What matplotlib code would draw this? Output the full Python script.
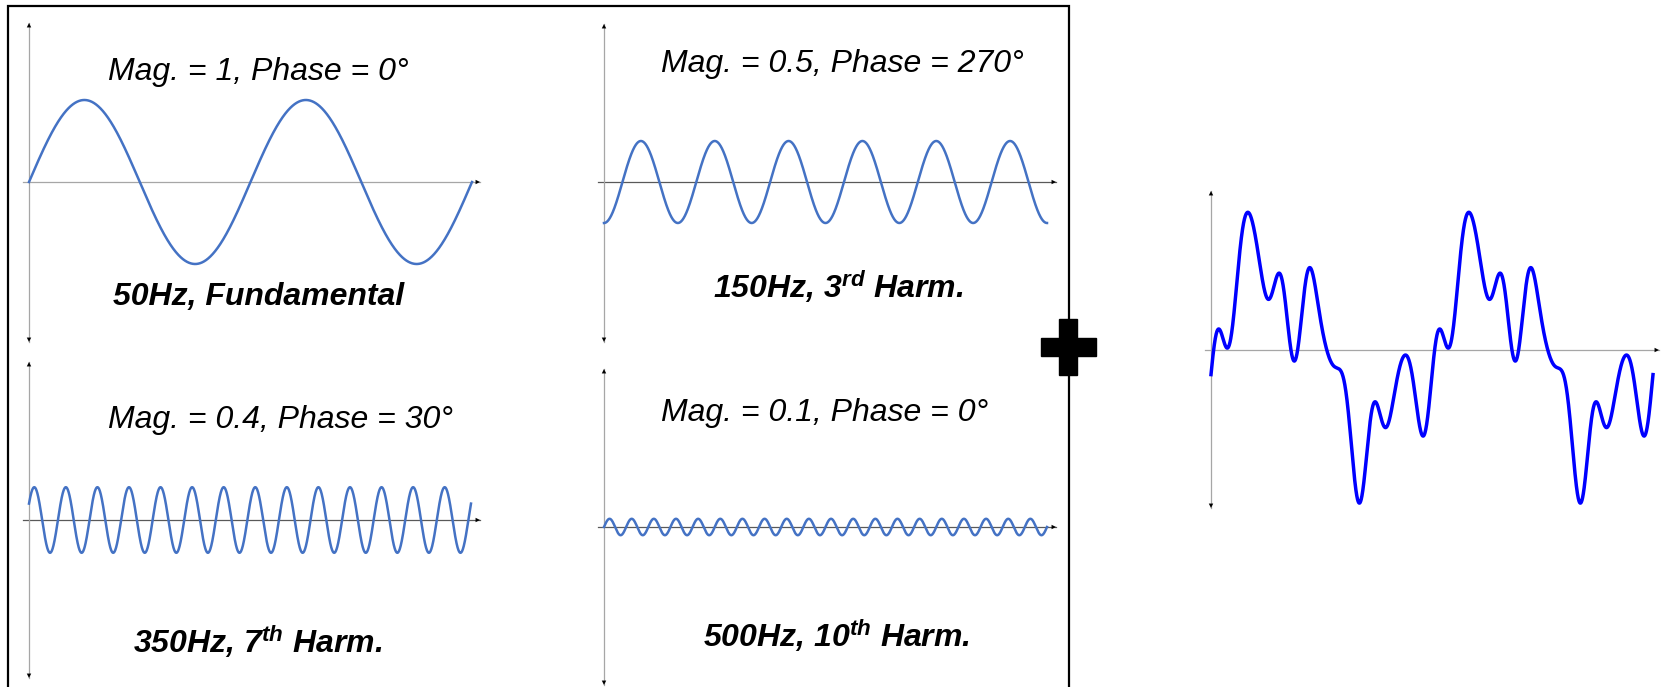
import numpy as np
import matplotlib
matplotlib.use("Agg")
import matplotlib.pyplot as plt
from matplotlib.patches import Rectangle

plt.rcParams["font.family"] = ["Liberation Sans", "DejaVu Sans"]
plt.rcParams["mathtext.fontset"] = "custom"
plt.rcParams["mathtext.it"] = "Liberation Sans:bold:italic"
plt.rcParams["mathtext.rm"] = "Liberation Sans:bold:italic"

# harmonic content of the signal
freqs = [50, 150, 350, 500]
mags = [1, 0.5, 0.4, 0.1]
phases = [0, 270, 30, 0]
names = ["Fundamental", "3$^{rd}$ Harm.", "7$^{th}$ Harm.", "10$^{th}$ Harm."]
t_end = 0.04  # two cycles of the fundamental

W, H = 1661, 687
fig = plt.figure(figsize=(W / 100, H / 100), dpi=100)

# overlay in pixel units for the frame and the plus sign
deco = fig.add_axes([0, 0, 1, 1])
deco.set_xlim(0, W)
deco.set_ylim(H, 0)
deco.axis("off")


def wave_axes(ox, oy, sx, sy):
    # axes spanning the figure, with (t=0, v=0) at pixel (ox, oy)
    ax = fig.add_axes([0, 0, 1, 1])
    ax.set_xlim(-ox / sx, (W - ox) / sx)
    ax.set_ylim((oy - H) / sy, oy / sy)
    ax.patch.set_alpha(0)
    ax.axis("off")
    return ax


def draw_axes(ax, ox, oy, sx, sy, hx, vy, hcol, vcol):
    x0, x1 = (hx[0] - ox) / sx, (hx[1] - ox) / sx
    y0, y1 = (oy - vy[1]) / sy, (oy - vy[0]) / sy
    xv = 0
    ax.plot([x0, x1], [0, 0], color=hcol, lw=0.9, zorder=1)
    ax.plot([xv, xv], [y0, y1], color=vcol, lw=0.9, zorder=1)
    head = dict(arrowstyle="-|>", color="black", lw=0, mutation_scale=8, shrinkA=0, shrinkB=0)
    ax.annotate("", xy=(x1, 0), xytext=(x1 - 1 / sx, 0), arrowprops=head)
    ax.annotate("", xy=(xv, y1), xytext=(xv, y1 - 1 / sy), arrowprops=head)
    ax.annotate("", xy=(xv, y0), xytext=(xv, y0 + 1 / sy), arrowprops=head)


def fig_text(x, y, s, **kw):
    fig.text(x / W, 1 - y / H, s, ha="center", va="baseline", fontsize=23, **kw)


# panel layout in pixels: origin, x scale, h-axis span, v-axis span, text baselines
panels = [
    dict(o=(29, 182), sx=443 / t_end, hx=(23, 480), vy=(23, 342),
         top=(258, 80), bot=(259, 305), hcol="#a6a6a6"),
    dict(o=(604, 182), sx=443 / t_end, hx=(598, 1056), vy=(24, 342),
         top=(842, 72), bot=(838, 298), hcol="#595959"),
    dict(o=(29, 520), sx=442 / t_end, hx=(23, 480), vy=(362, 678),
         top=(280, 428), bot=(258, 653), hcol="#595959"),
    dict(o=(604, 527), sx=443 / t_end, hx=(598, 1056), vy=(369, 685),
         top=(825, 421), bot=(837, 647), hcol="#595959"),
]
sy = 82

t = np.linspace(0, t_end, 3000)
total = np.zeros_like(t)
for f, m, ph, name, p in zip(freqs, mags, phases, names, panels):
    y = m * np.sin(2 * np.pi * f * t + np.deg2rad(ph))
    total += y
    ox, oy = p["o"]
    ax = wave_axes(ox, oy, p["sx"], sy)
    draw_axes(ax, ox, oy, p["sx"], sy, p["hx"], p["vy"], p["hcol"], "#a6a6a6")
    ax.plot(t, y, color="#4472c4", lw=1.8, zorder=2)
    fig_text(*p["top"], f"Mag. = {m:g}, Phase = {ph}°", style="italic")
    fig_text(*p["bot"], f"{f}Hz, {name}", style="italic", weight="bold")

# resulting distorted waveform
cx, cy, csx, csy = 1211, 350, 442 / t_end, 82
ax = wave_axes(cx, cy, csx, csy)
draw_axes(ax, cx, cy, csx, csy, (1205, 1659), (191, 508), "#a6a6a6", "#a6a6a6")
ax.plot(t, total, color="#0000ff", lw=2.5, zorder=2)

# frame around the harmonics and the plus sign
deco.plot([8, 8, 1069, 1069], [H, 6, 6, H], color="black", lw=1.6, solid_joinstyle="miter")
deco.add_patch(Rectangle((1041, 338), 55, 18, color="black"))
deco.add_patch(Rectangle((1059, 319), 18, 56, color="black"))

fig.savefig("out.png", dpi=100)
